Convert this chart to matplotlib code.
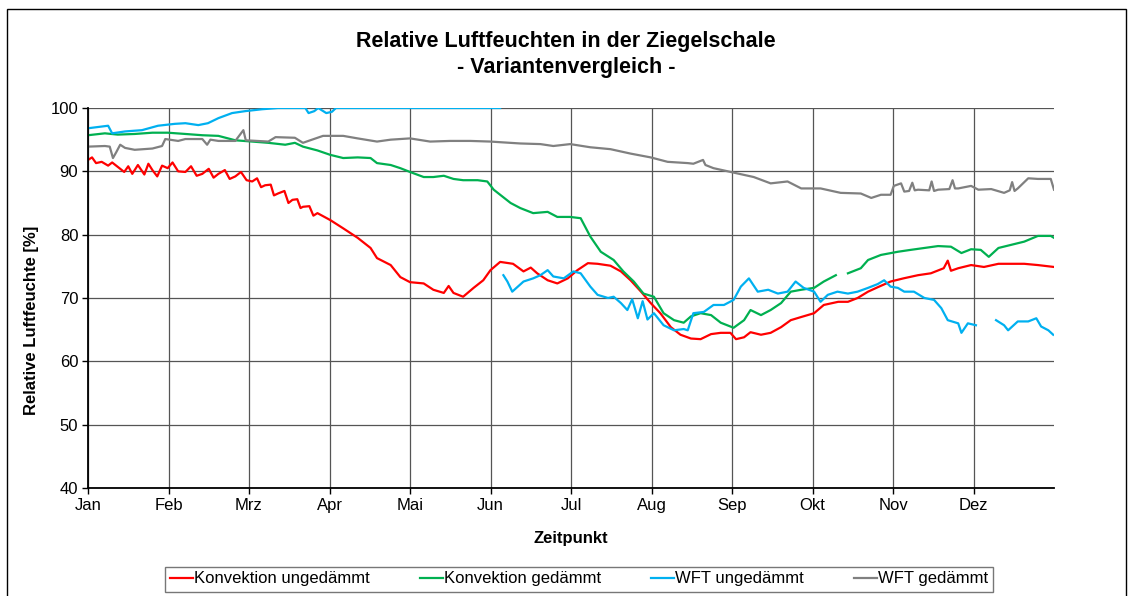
import numpy as np
import matplotlib
matplotlib.use("Agg")
import matplotlib.pyplot as plt
from matplotlib.patches import Rectangle

plt.rcParams['font.family'] = ['Liberation Sans', 'DejaVu Sans']

months = ["Jan", "Feb", "Mrz", "Apr", "Mai", "Jun", "Jul", "Aug", "Sep", "Okt", "Nov", "Dez"]
series_names = ["Konvektion ungedämmt", "Konvektion gedämmt", "WFT ungedämmt", "WFT gedämmt"]
series_colors = ["#FF0000", "#00B050", "#00B0F0", "#808080"]

# time in fractional months (0 = 1 Jan, 12 = end of year)
red_t = [0.00, 0.05, 0.10, 0.17, 0.25, 0.30, 0.37, 0.45, 0.50, 0.55, 0.62, 0.70, 0.75, 0.80, 0.86, 0.92,
         0.99, 1.05, 1.12, 1.21, 1.28, 1.35, 1.42, 1.50, 1.56, 1.62, 1.70, 1.76, 1.83, 1.90, 1.97, 2.04,
         2.10, 2.15, 2.20, 2.27, 2.31, 2.36, 2.44, 2.49, 2.54, 2.60, 2.64, 2.67, 2.75, 2.80, 2.85,
         3.01, 3.17, 3.35, 3.51, 3.59, 3.76, 3.88, 4.00, 4.17, 4.29, 4.42, 4.48, 4.54, 4.66, 4.79, 4.91,
         5.00, 5.12, 5.28, 5.41, 5.50, 5.58, 5.71, 5.83, 5.96, 6.08, 6.21, 6.33, 6.49, 6.62, 6.74, 6.87, 6.99,
         7.11, 7.24, 7.36, 7.49, 7.61, 7.74, 7.86, 7.98, 8.05, 8.15, 8.23, 8.36, 8.48, 8.61, 8.73, 8.86,
         9.02, 9.14, 9.32, 9.44, 9.56, 9.69, 9.81, 9.97, 10.13, 10.31, 10.47, 10.63, 10.68, 10.72, 10.81,
         10.97, 11.13, 11.31, 11.47, 11.63, 11.80, 12.00]
red_v = [91.8, 92.2, 91.3, 91.5, 90.9, 91.4, 90.7, 89.9, 90.8, 89.6, 91.0, 89.5, 91.2, 90.2, 89.2, 90.9,
         90.5, 91.4, 90.0, 89.9, 90.8, 89.3, 89.6, 90.4, 89.0, 89.6, 90.2, 88.8, 89.2, 89.9, 88.6, 88.4,
         88.9, 87.5, 87.8, 87.9, 86.2, 86.5, 86.9, 85.0, 85.5, 85.6, 84.2, 84.4, 84.5, 83.0, 83.4,
         82.3, 81.0, 79.5, 77.9, 76.3, 75.2, 73.3, 72.5, 72.3, 71.3, 70.8, 71.9, 70.8, 70.2, 71.6, 72.8,
         74.4, 75.7, 75.4, 74.2, 74.8, 73.9, 72.8, 72.3, 73.1, 74.4, 75.5, 75.4, 75.1, 74.2, 72.8, 71.0, 69.2,
         67.6, 65.4, 64.2, 63.6, 63.5, 64.3, 64.5, 64.5, 63.5, 63.8, 64.6, 64.2, 64.5, 65.4, 66.5, 67.0,
         67.6, 68.9, 69.4, 69.4, 70.0, 71.0, 71.7, 72.6, 73.1, 73.6, 73.9, 74.7, 75.9, 74.3, 74.7,
         75.2, 74.9, 75.4, 75.4, 75.4, 75.2, 74.9]

green_t = [0.00, 0.21, 0.37, 0.58, 0.80, 0.99, 1.21, 1.42, 1.62, 1.83, 2.04, 2.24, 2.45, 2.57, 2.67, 2.85,
           3.01, 3.17, 3.35, 3.51, 3.59, 3.76, 3.88, 4.00, 4.17, 4.29, 4.42, 4.54, 4.66, 4.84, 4.96, 5.04,
           5.12, 5.25, 5.37, 5.53, 5.71, 5.83, 5.99, 6.12, 6.24, 6.37, 6.53, 6.65, 6.78, 6.90, 7.03, 7.15,
           7.28, 7.40, 7.49, 7.61, 7.74, 7.86, 8.02, 8.15, 8.23, 8.36, 8.48, 8.61, 8.73, 8.86, 9.02, 9.14,
           9.29, 9.35, 9.44, 9.60, 9.69, 9.85, 10.06, 10.22, 10.39, 10.56, 10.72, 10.85, 10.97, 11.09, 11.19,
           11.31, 11.47, 11.63, 11.80, 11.96, 12.00]
green_v = [95.7, 96.0, 95.8, 95.9, 96.1, 96.1, 95.9, 95.7, 95.6, 94.9, 94.7, 94.5, 94.2, 94.5, 93.9, 93.3,
           92.6, 92.1, 92.2, 92.1, 91.3, 91.0, 90.5, 89.9, 89.1, 89.1, 89.3, 88.8, 88.6, 88.6, 88.4, 87.1,
           86.3, 85.0, 84.2, 83.4, 83.6, 82.8, 82.8, 82.6, 79.7, 77.3, 76.0, 74.2, 72.6, 70.7, 70.2, 67.6,
           66.5, 66.1, 67.1, 67.6, 67.3, 66.1, 65.3, 66.5, 68.1, 67.3, 68.1, 69.2, 71.0, 71.3, 71.6, 72.6,
           73.6, np.nan, 73.9, 74.7, 76.0, 76.8, 77.3, 77.6, 77.9, 78.2, 78.1, 77.1, 77.7, 77.6, 76.5,
           77.9, 78.4, 78.9, 79.8, 79.8, 79.5]

blue_t = [0.00, 0.25, 0.30, 0.46, 0.67, 0.87, 1.08, 1.21, 1.37, 1.49, 1.62, 1.79, 1.95, 2.16, 2.36, 2.70,
          2.74, 2.81, 2.86, 2.96, 3.03, 3.08, 5.12, 5.15, 5.16, 5.21, 5.27, 5.34, 5.41, 5.53, 5.62, 5.71,
          5.78, 5.91, 6.03, 6.12, 6.24, 6.33, 6.46, 6.53, 6.62, 6.70, 6.76, 6.83, 6.89, 6.95, 7.03, 7.15,
          7.28, 7.40, 7.45, 7.52, 7.65, 7.77, 7.90, 8.02, 8.11, 8.21, 8.32, 8.45, 8.57, 8.69, 8.79, 8.89,
          9.02, 9.10, 9.19, 9.31, 9.44, 9.56, 9.69, 9.81, 9.89, 9.97, 10.06, 10.14, 10.26, 10.39, 10.51,
          10.60, 10.68, 10.81, 10.85, 10.93, 11.03, 11.10, 11.28, 11.38, 11.43, 11.55, 11.68, 11.78, 11.84,
          11.93, 11.99]
blue_v = [96.8, 97.2, 96.0, 96.3, 96.5, 97.2, 97.5, 97.6, 97.3, 97.6, 98.4, 99.2, 99.5, 99.8, 100.0, 100.0,
          99.2, 99.5, 100.0, 99.2, 99.4, 100.0, 100.0, np.nan, 73.6, 72.6, 71.0, 71.8, 72.6, 73.1, 73.6, 74.4,
          73.4, 73.1, 74.2, 73.9, 71.8, 70.5, 70.0, 70.2, 69.2, 68.1, 69.8, 66.8, 69.5, 66.6, 67.6, 65.7,
          64.9, 65.1, 64.9, 67.6, 67.8, 68.9, 68.9, 69.7, 71.8, 73.1, 71.0, 71.3, 70.7, 71.0, 72.6, 71.6,
          71.0, 69.4, 70.5, 71.0, 70.7, 71.0, 71.6, 72.2, 72.8, 71.8, 71.6, 71.0, 71.0, 70.0, 69.7,
          68.4, 66.5, 66.0, 64.5, 66.0, 65.7, np.nan, 66.5, 65.7, 64.9, 66.3, 66.3, 66.8, 65.5,
          64.9, 64.2]

gray_t = [0.00, 0.21, 0.27, 0.31, 0.35, 0.40, 0.46, 0.58, 0.80, 0.92, 0.96, 1.12, 1.21, 1.42, 1.48, 1.52,
          1.62, 1.83, 1.93, 1.96, 2.24, 2.33, 2.57, 2.67, 2.76, 2.92, 3.17, 3.35, 3.59, 3.76, 4.00, 4.25,
          4.50, 4.75, 5.00, 5.12, 5.37, 5.62, 5.78, 5.99, 6.24, 6.49, 6.74, 6.99, 7.20, 7.45, 7.52, 7.64,
          7.67, 7.77, 8.02, 8.27, 8.48, 8.69, 8.86, 9.10, 9.35, 9.60, 9.73, 9.85, 9.97, 10.01, 10.10, 10.14,
          10.20, 10.24, 10.27, 10.31, 10.45, 10.48, 10.51, 10.56, 10.70, 10.74, 10.77, 10.81, 10.97, 11.06,
          11.22, 11.38, 11.45, 11.48, 11.51, 11.55, 11.68, 11.80, 11.96, 12.00]
gray_v = [93.9, 94.0, 93.9, 92.1, 93.0, 94.2, 93.7, 93.4, 93.6, 94.0, 95.1, 94.8, 95.1, 95.1, 94.2, 95.0,
          94.8, 94.8, 96.5, 94.9, 94.7, 95.4, 95.3, 94.5, 94.9, 95.6, 95.6, 95.2, 94.7, 95.0, 95.2, 94.7,
          94.8, 94.8, 94.7, 94.6, 94.4, 94.3, 94.0, 94.3, 93.8, 93.5, 92.8, 92.2, 91.5, 91.3, 91.2, 91.8,
          91.0, 90.5, 89.8, 89.1, 88.1, 88.4, 87.3, 87.3, 86.6, 86.5, 85.8, 86.3, 86.3, 87.7, 88.1, 86.8,
          86.9, 88.2, 87.0, 87.1, 87.0, 88.4, 86.9, 87.1, 87.2, 88.6, 87.3, 87.3, 87.7, 87.1,
          87.2, 86.6, 87.0, 88.3, 86.9, 87.3, 88.9, 88.8, 88.8, 87.1]

W, H = 1129, 596
fig = plt.figure(figsize=(W / 100, H / 100), dpi=100)
ax = fig.add_axes([88 / W, 1 - 488 / H, (1054 - 88) / W, (488 - 108) / H])

data = [(red_t, red_v), (green_t, green_v), (blue_t, blue_v), (gray_t, gray_v)]
handles = []
for (t, v), name, col in zip(data, series_names, series_colors):
    h, = ax.plot(t, v, color=col, lw=1.6, label=name)
    handles.append(h)

ax.set_xlim(0, 12)
ax.set_ylim(40, 100)
ax.set_yticks(np.arange(40, 101, 10))
ax.set_xticks(np.arange(0, 12))
ax.set_xticklabels(months)
ax.grid(True, color="#555555", lw=0.9)
ax.set_axisbelow(True)
for s in ["top", "right"]:
    ax.spines[s].set_visible(False)
for s in ["left", "bottom"]:
    ax.spines[s].set_color("black")
    ax.spines[s].set_linewidth(1.3)
ax.tick_params(axis="both", labelsize=12, length=4, width=1, color="black", pad=3)

fig.text(571 / W, 1 - 538 / H, "Zeitpunkt", ha="center", va="center", fontsize=12, fontweight="bold")
fig.text(32 / W, 1 - 320 / H, "Relative Luftfeuchte [%]", ha="center", va="center", rotation=90,
         fontsize=12, fontweight="bold")

fig.text(566 / W, 1 - 41 / H, "Relative Luftfeuchten in der Ziegelschale", ha="center", va="center",
         fontsize=15.5, fontweight="bold")
fig.text(566 / W, 1 - 67 / H, "- Variantenvergleich -", ha="center", va="center",
         fontsize=15.5, fontweight="bold")

leg = fig.legend(handles=handles, labels=series_names, loc="center", ncol=4,
                 bbox_to_anchor=(579 / W, 1 - 579 / H), fontsize=12, frameon=True,
                 fancybox=False, edgecolor="#555555", handlelength=1.4, handletextpad=0.05,
                 columnspacing=3.0, borderpad=0.3, borderaxespad=0)
leg.get_frame().set_linewidth(1.0)

fig.add_artist(Rectangle((6.5 / W, -0.01), (1126 - 6.5) / W, (596 - 9) / H + 0.01,
                         transform=fig.transFigure, fill=False, edgecolor="black", lw=1.0))

fig.savefig("out.png", dpi=100)
